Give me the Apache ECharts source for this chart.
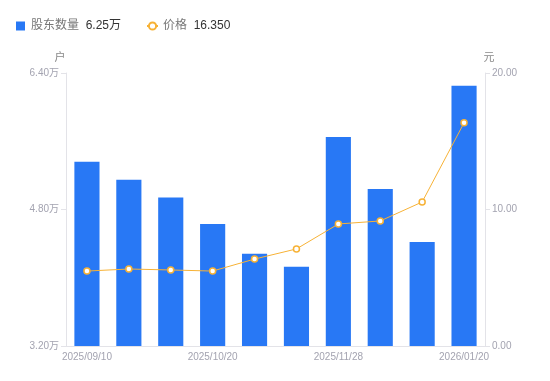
<!DOCTYPE html>
<html><head><meta charset="utf-8">
<script src="https://cdn.jsdelivr.net/npm/echarts@6/dist/echarts.min.js"></script>
<style>html,body{margin:0;padding:0;background:#fff}#c{width:550px;height:381px}</style>
</head><body><div id="c"></div>
<script>
const categories = ['2025/09/10','2025/09/19','2025/09/30','2025/10/20','2025/10/31','2025/11/10','2025/11/28','2025/12/10','2025/12/31','2026/01/20'];
const holders = [5.36, 5.15, 4.94, 4.63, 4.28, 4.13, 5.65, 5.04, 4.42, 6.25];
const prices = [5.49, 5.64, 5.57, 5.49, 6.37, 7.11, 8.94, 9.16, 10.55, 16.35];
const leftTicks = {min: 3.2, max: 6.4, interval: 1.6};
const rightTicks = {min: 0, max: 20, interval: 10};

const font = 'Liberation Sans, Noto Sans CJK SC, sans-serif';
const chart = echarts.init(document.getElementById('c'), null, {renderer: 'canvas'});
const lastVals = {'股东数量': holders[holders.length-1].toFixed(2) + '万', '价格': prices[prices.length-1].toFixed(3)};
chart.setOption({
  animation: false,
  textStyle: {fontFamily: font},
  legend: {
    left: 11, top: 15, itemWidth: 11, itemHeight: 9, itemGap: 25,
    symbolKeepAspect: true,
    textStyle: {fontFamily: font, rich: {a: {color: '#777', fontSize: 12, fontFamily: font}, b: {color: '#333', fontSize: 12, fontFamily: font}}},
    formatter: n => '{a|' + n + '}  {b|' + lastVals[n] + '}',
    data: [{name: '股东数量', icon: 'path://M0,0H10V10H0Z'}, {name: '价格'}]
  },
  grid: {left: 66, right: 65, top: 73, bottom: 35},
  xAxis: {
    type: 'category', data: categories,
    axisLine: {lineStyle: {color: '#e3e3e8'}},
    axisTick: {show: false},
    axisLabel: {color: '#a3a3b0', fontSize: 10, interval: 2, margin: 6}
  },
  yAxis: [
    {type: 'value', name: '户', min: leftTicks.min, max: leftTicks.max, interval: leftTicks.interval,
     nameTextStyle: {color: '#888', fontSize: 11, padding: [0, 12, 0, 0]}, nameGap: 10,
     axisLine: {show: true, lineStyle: {color: '#e3e3e8'}},
     axisTick: {show: true, length: 5, lineStyle: {color: '#e3e3e8'}},
     splitLine: {show: false},
     axisLabel: {color: '#a3a3b0', fontSize: 10, margin: 7, formatter: v => v.toFixed(2) + '万'}},
    {type: 'value', name: '元', min: rightTicks.min, max: rightTicks.max, interval: rightTicks.interval,
     nameTextStyle: {color: '#888', fontSize: 11, padding: [0, 0, 0, 8]}, nameGap: 10,
     axisLine: {show: true, lineStyle: {color: '#e3e3e8'}},
     axisTick: {show: true, length: 5, lineStyle: {color: '#e3e3e8'}},
     splitLine: {show: false},
     axisLabel: {color: '#a3a3b0', fontSize: 10, margin: 7, formatter: v => v.toFixed(2)}}
  ],
  series: [
    {name: '股东数量', type: 'bar', data: holders, barWidth: '60%', itemStyle: {color: '#2878f5'}},
    {name: '价格', type: 'line', yAxisIndex: 1, data: prices, symbol: 'circle', symbolSize: 6,
     itemStyle: {color: '#fff', borderColor: '#f7b236', borderWidth: 1.5},
     lineStyle: {color: '#f7b236', width: 1}}
  ]
});
</script></body></html>
